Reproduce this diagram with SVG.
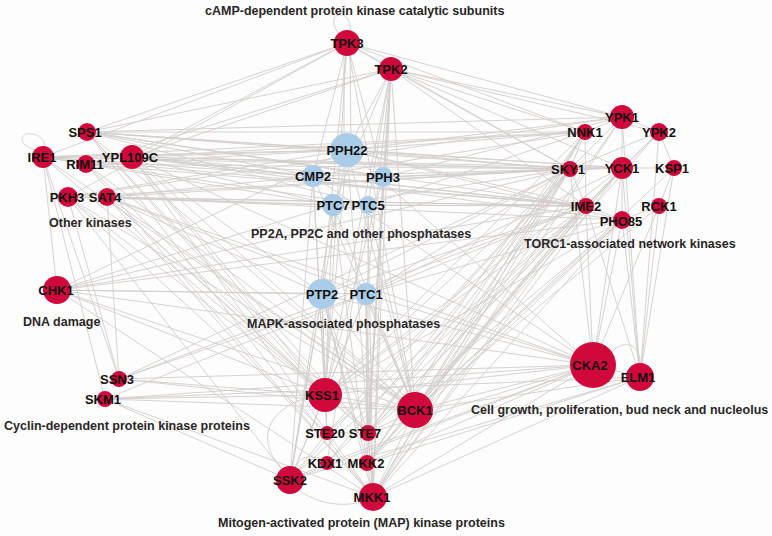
<svg xmlns="http://www.w3.org/2000/svg" width="772" height="536" viewBox="0 0 772 536">
<style>
.e{stroke:#d3cdcb;stroke-width:0.9;fill:none}
.k{fill:#d0083b}
.p{fill:#a9cce8}
.nl{font-family:"Liberation Sans",Arial,sans-serif;font-weight:bold;font-size:13px;fill:#111;text-anchor:middle}
.gl{font-family:"Liberation Sans",Arial,sans-serif;font-weight:bold;font-size:12.5px;fill:#2a2627}
</style>
<rect width="772" height="536" fill="#fdfdfd"/>
<g id="connectors" class="e">
<path d="M344,43 L344,150 M350,43 L351,150"/>
<line x1="347" y1="150" x2="391" y2="69"/><line x1="347" y1="150" x2="87" y2="132"/><line x1="347" y1="150" x2="43" y2="157"/><line x1="347" y1="150" x2="132" y2="157"/><line x1="347" y1="150" x2="86" y2="164"/><line x1="347" y1="150" x2="68" y2="197"/><line x1="347" y1="150" x2="622" y2="117"/><line x1="347" y1="150" x2="585" y2="132"/><line x1="347" y1="150" x2="570" y2="169"/><line x1="347" y1="150" x2="622" y2="168"/><line x1="347" y1="150" x2="586" y2="206"/><line x1="347" y1="150" x2="622" y2="220"/><line x1="347" y1="150" x2="325" y2="395"/><line x1="347" y1="150" x2="415" y2="410"/><line x1="347" y1="150" x2="593" y2="365"/><line x1="347" y1="150" x2="373" y2="497"/><line x1="347" y1="150" x2="290" y2="480"/><line x1="347" y1="150" x2="57" y2="290"/>
<line x1="313" y1="176" x2="347" y2="43"/><line x1="313" y1="176" x2="87" y2="132"/><line x1="313" y1="176" x2="43" y2="157"/><line x1="313" y1="176" x2="132" y2="157"/><line x1="313" y1="176" x2="107" y2="197"/><line x1="313" y1="176" x2="585" y2="132"/><line x1="313" y1="176" x2="570" y2="169"/><line x1="313" y1="176" x2="586" y2="206"/><line x1="313" y1="176" x2="325" y2="395"/><line x1="313" y1="176" x2="415" y2="410"/><line x1="313" y1="176" x2="290" y2="480"/><line x1="313" y1="176" x2="327" y2="433"/><line x1="313" y1="176" x2="593" y2="365"/>
<line x1="383" y1="177" x2="391" y2="69"/><line x1="383" y1="177" x2="347" y2="43"/><line x1="383" y1="177" x2="87" y2="132"/><line x1="383" y1="177" x2="622" y2="117"/><line x1="383" y1="177" x2="622" y2="168"/><line x1="383" y1="177" x2="570" y2="169"/><line x1="383" y1="177" x2="325" y2="395"/><line x1="383" y1="177" x2="373" y2="497"/><line x1="383" y1="177" x2="368" y2="433"/><line x1="383" y1="177" x2="132" y2="157"/>
<line x1="333" y1="205" x2="391" y2="69"/><line x1="333" y1="205" x2="43" y2="157"/><line x1="333" y1="205" x2="132" y2="157"/><line x1="333" y1="205" x2="107" y2="197"/><line x1="333" y1="205" x2="68" y2="197"/><line x1="333" y1="205" x2="570" y2="169"/><line x1="333" y1="205" x2="586" y2="206"/><line x1="333" y1="205" x2="325" y2="395"/><line x1="333" y1="205" x2="415" y2="410"/><line x1="333" y1="205" x2="367" y2="463"/><line x1="333" y1="205" x2="57" y2="290"/><line x1="333" y1="205" x2="290" y2="480"/>
<line x1="368" y1="205" x2="391" y2="69"/><line x1="368" y1="205" x2="87" y2="132"/><line x1="368" y1="205" x2="43" y2="157"/><line x1="368" y1="205" x2="585" y2="132"/><line x1="368" y1="205" x2="586" y2="206"/><line x1="368" y1="205" x2="415" y2="410"/><line x1="368" y1="205" x2="368" y2="433"/><line x1="368" y1="205" x2="327" y2="463"/><line x1="368" y1="205" x2="373" y2="497"/>
<line x1="322" y1="294" x2="325" y2="395"/><line x1="322" y1="294" x2="290" y2="480"/><line x1="322" y1="294" x2="327" y2="433"/><line x1="322" y1="294" x2="368" y2="433"/><line x1="322" y1="294" x2="415" y2="410"/><line x1="322" y1="294" x2="373" y2="497"/><line x1="322" y1="294" x2="367" y2="463"/><line x1="322" y1="294" x2="57" y2="290"/><line x1="322" y1="294" x2="107" y2="197"/><line x1="322" y1="294" x2="132" y2="157"/><line x1="322" y1="294" x2="586" y2="206"/><line x1="322" y1="294" x2="570" y2="169"/><line x1="322" y1="294" x2="593" y2="365"/><line x1="322" y1="294" x2="347" y2="43"/>
<line x1="366" y1="294" x2="325" y2="395"/><line x1="366" y1="294" x2="415" y2="410"/><line x1="366" y1="294" x2="368" y2="433"/><line x1="366" y1="294" x2="373" y2="497"/><line x1="366" y1="294" x2="367" y2="463"/><line x1="366" y1="294" x2="290" y2="480"/><line x1="366" y1="294" x2="391" y2="69"/><line x1="366" y1="294" x2="622" y2="168"/><line x1="366" y1="294" x2="570" y2="169"/><line x1="366" y1="294" x2="622" y2="220"/><line x1="366" y1="294" x2="593" y2="365"/><line x1="366" y1="294" x2="119" y2="379"/><line x1="366" y1="294" x2="57" y2="290"/><line x1="366" y1="294" x2="107" y2="197"/>
<line x1="347" y1="43" x2="391" y2="69"/><line x1="347" y1="43" x2="87" y2="132"/><line x1="347" y1="43" x2="43" y2="157"/><line x1="347" y1="43" x2="132" y2="157"/><line x1="347" y1="43" x2="622" y2="117"/><line x1="347" y1="43" x2="585" y2="132"/><line x1="347" y1="43" x2="570" y2="169"/><line x1="347" y1="43" x2="325" y2="395"/><line x1="347" y1="43" x2="68" y2="197"/><line x1="347" y1="43" x2="415" y2="410"/>
<line x1="391" y1="69" x2="87" y2="132"/><line x1="391" y1="69" x2="132" y2="157"/><line x1="391" y1="69" x2="622" y2="117"/><line x1="391" y1="69" x2="659" y2="132"/><line x1="391" y1="69" x2="585" y2="132"/><line x1="391" y1="69" x2="570" y2="169"/><line x1="391" y1="69" x2="586" y2="206"/><line x1="391" y1="69" x2="622" y2="168"/><line x1="391" y1="69" x2="368" y2="433"/><line x1="391" y1="69" x2="373" y2="497"/><line x1="391" y1="69" x2="367" y2="463"/><line x1="391" y1="69" x2="415" y2="410"/><line x1="391" y1="69" x2="325" y2="395"/><line x1="391" y1="69" x2="86" y2="164"/>
<line x1="87" y1="132" x2="585" y2="132"/><line x1="87" y1="132" x2="570" y2="169"/><line x1="87" y1="132" x2="586" y2="206"/><line x1="87" y1="132" x2="622" y2="117"/><line x1="87" y1="132" x2="622" y2="168"/><line x1="87" y1="132" x2="415" y2="410"/><line x1="87" y1="132" x2="325" y2="395"/><line x1="87" y1="132" x2="368" y2="433"/><line x1="87" y1="132" x2="373" y2="497"/>
<line x1="43" y1="157" x2="570" y2="169"/><line x1="43" y1="157" x2="585" y2="132"/><line x1="43" y1="157" x2="586" y2="206"/><line x1="43" y1="157" x2="57" y2="290"/><line x1="43" y1="157" x2="105" y2="399"/><line x1="43" y1="157" x2="119" y2="379"/><line x1="43" y1="157" x2="325" y2="395"/><line x1="43" y1="157" x2="415" y2="410"/><line x1="43" y1="157" x2="132" y2="157"/><line x1="43" y1="157" x2="86" y2="164"/>
<line x1="86" y1="164" x2="570" y2="169"/><line x1="86" y1="164" x2="586" y2="206"/><line x1="86" y1="164" x2="415" y2="410"/><line x1="86" y1="164" x2="373" y2="497"/><line x1="86" y1="164" x2="325" y2="395"/>
<line x1="132" y1="157" x2="585" y2="132"/><line x1="132" y1="157" x2="570" y2="169"/><line x1="132" y1="157" x2="586" y2="206"/><line x1="132" y1="157" x2="622" y2="168"/><line x1="132" y1="157" x2="622" y2="220"/><line x1="132" y1="157" x2="415" y2="410"/><line x1="132" y1="157" x2="325" y2="395"/><line x1="132" y1="157" x2="368" y2="433"/><line x1="132" y1="157" x2="373" y2="497"/><line x1="132" y1="157" x2="593" y2="365"/>
<line x1="68" y1="197" x2="570" y2="169"/><line x1="68" y1="197" x2="586" y2="206"/><line x1="68" y1="197" x2="325" y2="395"/><line x1="68" y1="197" x2="415" y2="410"/><line x1="68" y1="197" x2="327" y2="433"/><line x1="68" y1="197" x2="290" y2="480"/><line x1="68" y1="197" x2="622" y2="117"/>
<line x1="107" y1="197" x2="570" y2="169"/><line x1="107" y1="197" x2="586" y2="206"/><line x1="107" y1="197" x2="622" y2="220"/><line x1="107" y1="197" x2="415" y2="410"/><line x1="107" y1="197" x2="373" y2="497"/><line x1="107" y1="197" x2="325" y2="395"/><line x1="107" y1="197" x2="368" y2="433"/><line x1="107" y1="197" x2="593" y2="365"/>
<line x1="57" y1="290" x2="570" y2="169"/><line x1="57" y1="290" x2="586" y2="206"/><line x1="57" y1="290" x2="622" y2="220"/><line x1="57" y1="290" x2="415" y2="410"/><line x1="57" y1="290" x2="593" y2="365"/><line x1="57" y1="290" x2="325" y2="395"/><line x1="57" y1="290" x2="373" y2="497"/>
<line x1="119" y1="379" x2="415" y2="410"/><line x1="119" y1="379" x2="593" y2="365"/><line x1="119" y1="379" x2="570" y2="169"/><line x1="119" y1="379" x2="586" y2="206"/><line x1="119" y1="379" x2="68" y2="197"/><line x1="119" y1="379" x2="107" y2="197"/><line x1="119" y1="379" x2="325" y2="395"/>
<line x1="105" y1="399" x2="415" y2="410"/><line x1="105" y1="399" x2="593" y2="365"/><line x1="105" y1="399" x2="373" y2="497"/><line x1="105" y1="399" x2="325" y2="395"/><line x1="105" y1="399" x2="290" y2="480"/><line x1="105" y1="399" x2="586" y2="206"/><line x1="105" y1="399" x2="640" y2="377"/>
<line x1="325" y1="395" x2="570" y2="169"/><line x1="325" y1="395" x2="586" y2="206"/><line x1="325" y1="395" x2="622" y2="168"/><line x1="325" y1="395" x2="622" y2="220"/><line x1="325" y1="395" x2="585" y2="132"/><line x1="325" y1="395" x2="593" y2="365"/><line x1="325" y1="395" x2="327" y2="433"/><line x1="325" y1="395" x2="290" y2="480"/><line x1="325" y1="395" x2="368" y2="433"/><line x1="325" y1="395" x2="415" y2="410"/>
<line x1="415" y1="410" x2="570" y2="169"/><line x1="415" y1="410" x2="586" y2="206"/><line x1="415" y1="410" x2="585" y2="132"/><line x1="415" y1="410" x2="622" y2="168"/><line x1="415" y1="410" x2="622" y2="220"/><line x1="415" y1="410" x2="659" y2="206"/><line x1="415" y1="410" x2="593" y2="365"/><line x1="415" y1="410" x2="640" y2="377"/><line x1="415" y1="410" x2="373" y2="497"/><line x1="415" y1="410" x2="367" y2="463"/><line x1="415" y1="410" x2="368" y2="433"/><line x1="415" y1="410" x2="622" y2="117"/><line x1="415" y1="410" x2="659" y2="132"/><line x1="415" y1="410" x2="674" y2="168"/>
<line x1="368" y1="433" x2="570" y2="169"/><line x1="368" y1="433" x2="586" y2="206"/><line x1="368" y1="433" x2="585" y2="132"/><line x1="368" y1="433" x2="622" y2="220"/><line x1="368" y1="433" x2="622" y2="168"/><line x1="368" y1="433" x2="593" y2="365"/><line x1="368" y1="433" x2="373" y2="497"/>
<line x1="327" y1="433" x2="586" y2="206"/><line x1="327" y1="433" x2="570" y2="169"/><line x1="327" y1="433" x2="290" y2="480"/><line x1="327" y1="433" x2="368" y2="433"/>
<line x1="367" y1="463" x2="570" y2="169"/><line x1="367" y1="463" x2="586" y2="206"/><line x1="367" y1="463" x2="622" y2="220"/><line x1="367" y1="463" x2="622" y2="168"/><line x1="367" y1="463" x2="585" y2="132"/><line x1="367" y1="463" x2="593" y2="365"/><line x1="367" y1="463" x2="640" y2="377"/><line x1="367" y1="463" x2="373" y2="497"/>
<line x1="327" y1="463" x2="586" y2="206"/><line x1="327" y1="463" x2="570" y2="169"/><line x1="327" y1="463" x2="593" y2="365"/><line x1="327" y1="463" x2="290" y2="480"/>
<line x1="373" y1="497" x2="570" y2="169"/><line x1="373" y1="497" x2="586" y2="206"/><line x1="373" y1="497" x2="622" y2="220"/><line x1="373" y1="497" x2="622" y2="168"/><line x1="373" y1="497" x2="585" y2="132"/><line x1="373" y1="497" x2="593" y2="365"/><line x1="373" y1="497" x2="640" y2="377"/><line x1="373" y1="497" x2="622" y2="117"/>
<line x1="290" y1="480" x2="586" y2="206"/><line x1="290" y1="480" x2="570" y2="169"/><line x1="290" y1="480" x2="593" y2="365"/><line x1="290" y1="480" x2="640" y2="377"/>
<line x1="593" y1="365" x2="586" y2="206"/><line x1="593" y1="365" x2="570" y2="169"/><line x1="593" y1="365" x2="622" y2="220"/><line x1="593" y1="365" x2="622" y2="168"/><line x1="593" y1="365" x2="659" y2="206"/><line x1="593" y1="365" x2="640" y2="377"/>
<line x1="640" y1="377" x2="622" y2="168"/><line x1="640" y1="377" x2="659" y2="206"/><line x1="640" y1="377" x2="674" y2="168"/><line x1="640" y1="377" x2="659" y2="132"/><line x1="640" y1="377" x2="622" y2="220"/><line x1="640" y1="377" x2="586" y2="206"/><line x1="640" y1="377" x2="622" y2="117"/>
<line x1="622" y1="117" x2="585" y2="132"/><line x1="622" y1="117" x2="659" y2="132"/><line x1="622" y1="117" x2="622" y2="168"/><line x1="622" y1="117" x2="570" y2="169"/><line x1="585" y1="132" x2="570" y2="169"/><line x1="585" y1="132" x2="586" y2="206"/><line x1="659" y1="132" x2="674" y2="168"/><line x1="659" y1="132" x2="570" y2="169"/><line x1="659" y1="132" x2="622" y2="168"/><line x1="570" y1="169" x2="622" y2="168"/><line x1="570" y1="169" x2="586" y2="206"/><line x1="622" y1="168" x2="674" y2="168"/><line x1="622" y1="168" x2="622" y2="220"/><line x1="586" y1="206" x2="622" y2="220"/><line x1="659" y1="206" x2="622" y2="220"/><line x1="674" y1="168" x2="659" y2="206"/><line x1="659" y1="132" x2="586" y2="206"/><line x1="586" y1="206" x2="622" y2="168"/>
<path d="M339,34 C322,12 352,6 350,31"/>
<path d="M36,150 C18,146 18,132 32,134 C40,135 44,140 45,146"/>
<path d="M612,352 C622,340 640,342 640,363"/>
<path d="M282,468 C258,445 262,410 310,397"/>
<path d="M300,491 C325,508 350,505 362,502"/>
<path d="M296,467 C300,455 315,455 322,460"/>
</g>
<g id="TPK3"><circle class="k" cx="347" cy="43" r="13"/><text class="nl" x="347" y="47.5">TPK3</text></g>
<g id="TPK2"><circle class="k" cx="391" cy="69" r="12"/><text class="nl" x="391" y="73.5">TPK2</text></g>
<g id="PPH22"><circle class="p" cx="347" cy="150" r="17"/><text class="nl" x="347" y="154.5">PPH22</text></g>
<g id="CMP2"><circle class="p" cx="313" cy="176" r="11"/><text class="nl" x="313" y="180.5">CMP2</text></g>
<g id="PPH3"><circle class="p" cx="383" cy="177" r="10"/><text class="nl" x="383" y="181.5">PPH3</text></g>
<g id="PTC7"><circle class="p" cx="333" cy="205" r="11"/><text class="nl" x="333" y="209.5">PTC7</text></g>
<g id="PTC5"><circle class="p" cx="368" cy="205" r="9"/><text class="nl" x="368" y="209.5">PTC5</text></g>
<g id="PTP2"><circle class="p" cx="322" cy="294" r="15"/><text class="nl" x="322" y="298.5">PTP2</text></g>
<g id="PTC1"><circle class="p" cx="366" cy="294" r="11"/><text class="nl" x="366" y="298.5">PTC1</text></g>
<g id="SPS1"><circle class="k" cx="87" cy="132" r="9"/><text class="nl" x="85" y="136.5">SPS1</text></g>
<g id="IRE1"><circle class="k" cx="43" cy="157" r="11"/><text class="nl" x="42" y="161.5">IRE1</text></g>
<g id="RIM11"><circle class="k" cx="86" cy="164" r="9"/><text class="nl" x="85" y="168.5">RIM11</text></g>
<g id="YPL109C"><circle class="k" cx="132" cy="157" r="12"/><text class="nl" x="130" y="161.5">YPL109C</text></g>
<g id="PKH3"><circle class="k" cx="68" cy="197" r="10"/><text class="nl" x="67" y="201.5">PKH3</text></g>
<g id="SAT4"><circle class="k" cx="107" cy="197" r="9"/><text class="nl" x="105" y="201.5">SAT4</text></g>
<g id="CHK1"><circle class="k" cx="57" cy="290" r="14"/><text class="nl" x="56" y="294.5">CHK1</text></g>
<g id="SSN3"><circle class="k" cx="119" cy="379" r="8"/><text class="nl" x="117" y="383.5">SSN3</text></g>
<g id="SKM1"><circle class="k" cx="105" cy="399" r="8"/><text class="nl" x="103" y="403.5">SKM1</text></g>
<g id="KSS1"><circle class="k" cx="325" cy="395" r="17"/><text class="nl" x="322" y="399.5">KSS1</text></g>
<g id="BCK1"><circle class="k" cx="415" cy="410" r="18"/><text class="nl" x="415" y="414.5">BCK1</text></g>
<g id="STE20"><circle class="k" cx="327" cy="433" r="7"/><text class="nl" x="325" y="437.5">STE20</text></g>
<g id="STE7"><circle class="k" cx="368" cy="433" r="8"/><text class="nl" x="365" y="437.5">STE7</text></g>
<g id="KDX1"><circle class="k" cx="327" cy="463" r="7"/><text class="nl" x="325" y="467.5">KDX1</text></g>
<g id="MKK2"><circle class="k" cx="367" cy="463" r="8"/><text class="nl" x="366" y="467.5">MKK2</text></g>
<g id="SSK2"><circle class="k" cx="290" cy="480" r="14"/><text class="nl" x="290" y="484.5">SSK2</text></g>
<g id="MKK1"><circle class="k" cx="373" cy="497" r="14"/><text class="nl" x="372" y="501.5">MKK1</text></g>
<g id="CKA2"><circle class="k" cx="593" cy="365" r="23"/><text class="nl" x="590" y="369.5">CKA2</text></g>
<g id="ELM1"><circle class="k" cx="640" cy="377" r="14"/><text class="nl" x="638" y="382">ELM1</text></g>
<g id="YPK1"><circle class="k" cx="622" cy="117" r="12"/><text class="nl" x="622" y="121.5">YPK1</text></g>
<g id="NNK1"><circle class="k" cx="585" cy="132" r="8"/><text class="nl" x="585" y="136.5">NNK1</text></g>
<g id="YPK2"><circle class="k" cx="659" cy="132" r="9"/><text class="nl" x="659" y="136.5">YPK2</text></g>
<g id="SKY1"><circle class="k" cx="570" cy="169" r="8"/><text class="nl" x="568" y="173.5">SKY1</text></g>
<g id="YCK1"><circle class="k" cx="622" cy="168" r="11"/><text class="nl" x="622" y="172.5">YCK1</text></g>
<g id="KSP1"><circle class="k" cx="674" cy="168" r="8"/><text class="nl" x="672" y="172.5">KSP1</text></g>
<g id="IME2"><circle class="k" cx="586" cy="206" r="8"/><text class="nl" x="586" y="210.5">IME2</text></g>
<g id="RCK1"><circle class="k" cx="659" cy="206" r="8"/><text class="nl" x="659" y="210.5">RCK1</text></g>
<g id="PHO85"><circle class="k" cx="622" cy="220" r="9"/><text class="nl" x="621" y="226">PHO85</text></g>
<g id="groups">
<text class="gl" x="205" y="15">cAMP-dependent protein kinase catalytic subunits</text>
<text class="gl" x="49" y="227">Other kinases</text>
<text class="gl" x="23" y="326">DNA damage</text>
<text class="gl" x="251" y="238">PP2A, PP2C and other phosphatases</text>
<text class="gl" x="524" y="248">TORC1-associated network kinases</text>
<text class="gl" x="247" y="328">MAPK-associated phosphatases</text>
<text class="gl" x="471" y="414">Cell growth, proliferation, bud neck and nucleolus</text>
<text class="gl" x="4" y="430">Cyclin-dependent protein kinase proteins</text>
<text class="gl" x="218" y="527">Mitogen-activated protein (MAP) kinase proteins</text>
</g>
</svg>
